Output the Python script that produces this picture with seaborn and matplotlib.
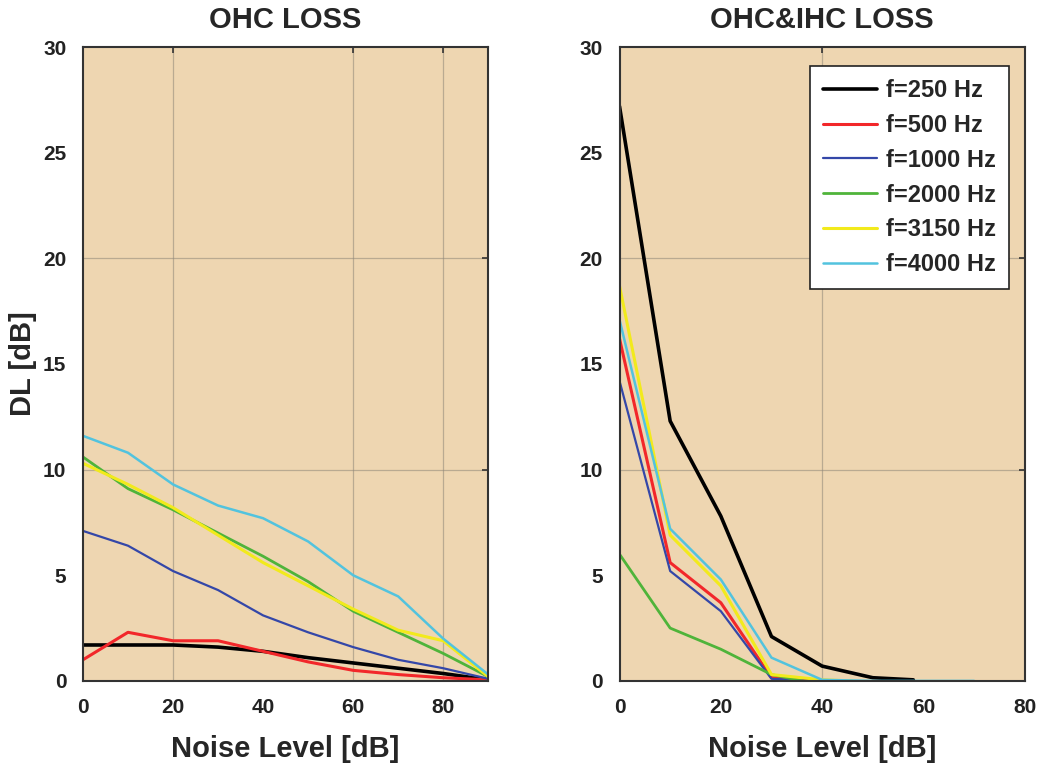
import numpy as np
import pandas as pd
import matplotlib
matplotlib.use("Agg")
import matplotlib.pyplot as plt
import seaborn as sns

# ---------------- data ----------------
freq_labels = ["f=250 Hz", "f=500 Hz", "f=1000 Hz", "f=2000 Hz", "f=3150 Hz", "f=4000 Hz"]
line_colors = ["#000000", "#f2272a", "#3447a8", "#4fb43a", "#f2ea1c", "#52c3de"]
line_widths = [2.6, 2.2, 1.6, 2.0, 2.2, 1.8]

# OHC loss (left)
x_ohc = [0, 10, 20, 30, 40, 50, 60, 70, 80, 90]
ohc_250 = [1.7, 1.7, 1.7, 1.6, 1.4, 1.1, 0.85, 0.6, 0.35, 0.05]
ohc_500 = [1.0, 2.3, 1.9, 1.9, 1.4, 0.9, 0.5, 0.3, 0.15, 0.05]
ohc_1000 = [7.1, 6.4, 5.2, 4.3, 3.1, 2.3, 1.6, 1.0, 0.6, 0.1]
ohc_2000 = [10.6, 9.1, 8.1, 7.0, 5.9, 4.7, 3.3, 2.3, 1.3, 0.2]
ohc_3150 = [10.3, 9.3, 8.2, 6.9, 5.6, 4.5, 3.4, 2.4, 1.9, 0.2]
ohc_4000 = [11.6, 10.8, 9.3, 8.3, 7.7, 6.6, 5.0, 4.0, 2.0, 0.3]

# OHC & IHC loss (right)
x_both_250 = [0, 10, 20, 30, 40, 50, 58]
both_250 = [27.2, 12.3, 7.8, 2.1, 0.7, 0.15, 0.05]
x_both_500 = [0, 10, 20, 30, 38]
both_500 = [16.2, 5.6, 3.7, 0.15, 0.0]
x_both_1000 = [0, 10, 20, 30, 38]
both_1000 = [14.2, 5.2, 3.3, 0.1, 0.0]
x_both_2000 = [0, 10, 20, 30, 36]
both_2000 = [6.0, 2.5, 1.5, 0.3, 0.0]
x_both_3150 = [0, 10, 20, 30, 40, 46]
both_3150 = [18.7, 6.9, 4.5, 0.3, 0.05, 0.0]
x_both_4000 = [0, 10, 20, 30, 40, 50, 60, 70]
both_4000 = [17.1, 7.2, 4.8, 1.1, 0.05, 0.0, 0.0, 0.0]

ohc_series = [ohc_250, ohc_500, ohc_1000, ohc_2000, ohc_3150, ohc_4000]
both_x = [x_both_250, x_both_500, x_both_1000, x_both_2000, x_both_3150, x_both_4000]
both_series = [both_250, both_500, both_1000, both_2000, both_3150, both_4000]

rows_l = []
for lab, ys in zip(freq_labels, ohc_series):
    for x, y in zip(x_ohc, ys):
        rows_l.append((lab, x, y))
df_left = pd.DataFrame(rows_l, columns=["freq", "noise", "dl"])

rows_r = []
for lab, xs, ys in zip(freq_labels, both_x, both_series):
    for x, y in zip(xs, ys):
        rows_r.append((lab, x, y))
df_right = pd.DataFrame(rows_r, columns=["freq", "noise", "dl"])

# ---------------- style ----------------
sns.set_theme(style="white")
plt.rcParams["font.family"] = ["Liberation Sans", "DejaVu Sans"]

bg = "#eed6b1"
palette = dict(zip(freq_labels, line_colors))
sizes = dict(zip(freq_labels, line_widths))

fig = plt.figure(figsize=(10.5, 7.72), dpi=100)
ax1 = fig.add_axes([0.079, 0.118, 0.386, 0.821])
ax2 = fig.add_axes([0.590, 0.118, 0.386, 0.821])

for ax, df, xmax, title, vgrid in [
    (ax1, df_left, 90, "OHC LOSS", [20, 60, 80]),
    (ax2, df_right, 80, "OHC&IHC LOSS", [40]),
]:
    sns.lineplot(data=df, x="noise", y="dl", hue="freq", size="freq",
                 palette=palette, sizes=sizes, hue_order=freq_labels,
                 size_order=freq_labels, estimator=None, sort=False,
                 legend=False, ax=ax)
    ax.set_facecolor(bg)
    ax.set_xlim(0, xmax)
    ax.set_ylim(0, 30)
    ax.xaxis.remove_overlapping_locs = False
    ax.yaxis.remove_overlapping_locs = False
    ax.set_xticks([0, 20, 40, 60, 80])
    ax.set_yticks([0, 5, 10, 15, 20, 25, 30])
    ax.set_xticks(vgrid, minor=True)
    ax.set_yticks([10, 20], minor=True)
    ax.grid(False)
    ax.grid(True, which="minor", color="#8f8678", linewidth=0.9, alpha=0.55)
    ax.tick_params(which="major", length=0, pad=12, labelsize=15, labelcolor="#222222")
    ax.tick_params(which="minor", direction="in", length=4, width=1.2, color="#333333",
                   bottom=False, left=False, top=True, right=True)
    for lab in ax.get_xticklabels() + ax.get_yticklabels():
        lab.set_fontweight("bold")
    for sp in ax.spines.values():
        sp.set_visible(True)
        sp.set_color("#333333")
        sp.set_linewidth(1.5)
    ax.set_title(title, fontsize=21, fontweight="bold", pad=14)
    ax.set_xlabel("Noise Level [dB]", fontsize=21, fontweight="bold", labelpad=13)
    ax.set_ylabel("")

ax1.set_ylabel("DL [dB]", fontsize=21, fontweight="bold", labelpad=4)

handles = ax2.get_lines()[:len(freq_labels)]
leg = ax2.legend(handles, freq_labels, loc="upper right", bbox_to_anchor=(0.96, 0.97),
                 frameon=True, fancybox=False, framealpha=1.0, edgecolor="#222222",
                 handlelength=2.3, handletextpad=0.35, labelspacing=0.5, borderpad=0.55,
                 borderaxespad=0.0, prop={"weight": "bold", "size": 17})
leg.get_frame().set_linewidth(1.2)

fig.savefig("out.png", dpi=100)
